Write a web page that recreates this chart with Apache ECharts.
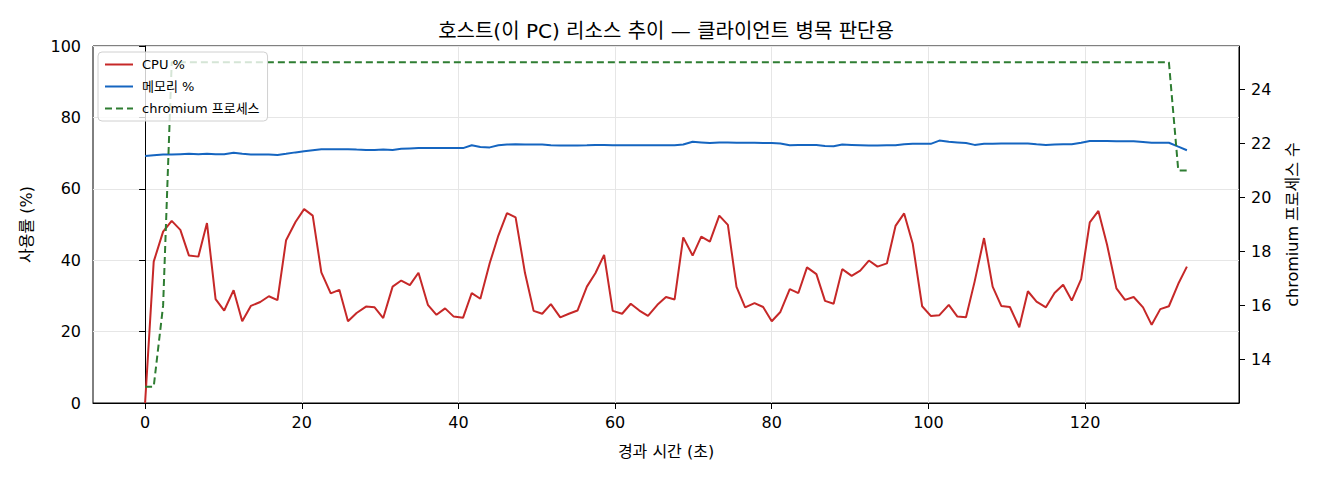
<!DOCTYPE html>
<html>
<head>
<meta charset="utf-8">
<title>호스트 리소스 추이</title>
<script src="https://cdn.jsdelivr.net/npm/echarts@6/dist/echarts.min.js"></script>
<style>
  html, body { margin: 0; padding: 0; background: #fff; }
  #chart { width: 1320px; height: 480px; }
</style>
</head>
<body>
<div id="chart"></div>
<script>
// elapsed seconds of each sample
var times = [
  0.0, 1.1, 2.3, 3.4, 4.5, 5.6, 6.8, 7.9, 9.0, 10.1,
  11.3, 12.4, 13.5, 14.7, 15.8, 16.9, 18.0, 19.2, 20.3, 21.4,
  22.5, 23.7, 24.8, 25.9, 27.0, 28.2, 29.3, 30.4, 31.6, 32.7,
  33.8, 34.9, 36.1, 37.2, 38.3, 39.4, 40.6, 41.7, 42.8, 44.0,
  45.1, 46.2, 47.3, 48.5, 49.6, 50.7, 51.8, 53.0, 54.1, 55.2,
  56.4, 57.5, 58.6, 59.7, 60.9, 62.0, 63.1, 64.2, 65.4, 66.5,
  67.6, 68.7, 69.9, 71.0, 72.1, 73.3, 74.4, 75.5, 76.6, 77.8,
  78.9, 80.0, 81.1, 82.3, 83.4, 84.5, 85.7, 86.8, 87.9, 89.0,
  90.2, 91.3, 92.4, 93.5, 94.7, 95.8, 96.9, 98.0, 99.2, 100.3,
  101.4, 102.6, 103.7, 104.8, 105.9, 107.1, 108.2, 109.3, 110.4, 111.6,
  112.7, 113.8, 115.0, 116.1, 117.2, 118.3, 119.5, 120.6, 121.7, 122.8,
  124.0, 125.1, 126.2, 127.4, 128.5, 129.6, 130.7, 131.9, 133.0
];

var cpuPct = [
  0, 39.6, 48.0, 51.0, 48.5, 41.3, 41.0, 50.4, 29.1, 25.9,
  31.6, 22.9, 27.2, 28.3, 29.9, 28.8, 45.6, 50.7, 54.3, 52.5,
  36.6, 30.7, 31.7, 22.9, 25.2, 27.0, 26.8, 23.8, 32.6, 34.3,
  33.0, 36.5, 27.5, 24.7, 26.5, 24.2, 23.9, 30.8, 29.2, 39.2,
  46.9, 53.2, 52.0, 36.4, 25.8, 25.0, 27.7, 24.0, 25.0, 25.9,
  32.6, 36.4, 41.5, 25.8, 25.0, 27.8, 25.9, 24.4, 27.5, 29.7,
  29.0, 46.4, 41.3, 46.6, 45.2, 52.5, 49.9, 32.5, 26.8, 28.0,
  26.9, 22.9, 25.5, 31.9, 30.8, 38.0, 36.1, 28.6, 27.8, 37.5,
  35.6, 37.1, 39.9, 38.2, 39.1, 49.6, 53.1, 44.6, 27.1, 24.4,
  24.6, 27.5, 24.2, 24.0, 34.0, 46.2, 32.6, 27.2, 26.9, 21.2,
  31.3, 28.4, 26.8, 30.8, 33.1, 28.7, 34.7, 50.6, 53.8, 44.4,
  32.1, 28.9, 29.7, 26.8, 21.9, 26.3, 27.1, 33.4, 38.2
];

var memPct = [
  69.2, 69.4, 69.6, 69.6, 69.7, 69.8, 69.7, 69.8, 69.7, 69.7,
  70.1, 69.8, 69.6, 69.6, 69.6, 69.5, 69.8, 70.2, 70.5, 70.8,
  71.1, 71.1, 71.1, 71.1, 71.0, 70.9, 70.9, 71.0, 70.9, 71.2,
  71.3, 71.4, 71.4, 71.4, 71.4, 71.4, 71.4, 72.2, 71.7, 71.6,
  72.2, 72.4, 72.5, 72.4, 72.4, 72.4, 72.2, 72.1, 72.1, 72.1,
  72.2, 72.3, 72.3, 72.2, 72.2, 72.2, 72.2, 72.2, 72.2, 72.2,
  72.2, 72.4, 73.2, 73.0, 72.8, 73.0, 73.0, 72.9, 72.9, 72.9,
  72.8, 72.8, 72.7, 72.2, 72.3, 72.3, 72.3, 72.0, 71.9, 72.4,
  72.3, 72.2, 72.1, 72.1, 72.2, 72.2, 72.5, 72.6, 72.6, 72.6,
  73.5, 73.2, 73.0, 72.8, 72.3, 72.6, 72.6, 72.7, 72.7, 72.7,
  72.7, 72.5, 72.3, 72.4, 72.5, 72.5, 72.9, 73.4, 73.4, 73.4,
  73.3, 73.3, 73.3, 73.1, 72.9, 72.9, 72.9, 71.8, 70.8
];

var chromiumProcs = [
  13, 13, 16, 25, 25, 25, 25, 25, 25, 25,
  25, 25, 25, 25, 25, 25, 25, 25, 25, 25,
  25, 25, 25, 25, 25, 25, 25, 25, 25, 25,
  25, 25, 25, 25, 25, 25, 25, 25, 25, 25,
  25, 25, 25, 25, 25, 25, 25, 25, 25, 25,
  25, 25, 25, 25, 25, 25, 25, 25, 25, 25,
  25, 25, 25, 25, 25, 25, 25, 25, 25, 25,
  25, 25, 25, 25, 25, 25, 25, 25, 25, 25,
  25, 25, 25, 25, 25, 25, 25, 25, 25, 25,
  25, 25, 25, 25, 25, 25, 25, 25, 25, 25,
  25, 25, 25, 25, 25, 25, 25, 25, 25, 25,
  25, 25, 25, 25, 25, 25, 25, 21, 21
];

var xTicks = [0, 20, 40, 60, 80, 100, 120];
var procTicks = [14, 16, 18, 20, 22, 24];

(function() {
  var font = "'DejaVu Sans', 'Noto Sans CJK KR', sans-serif";
  var gridColor = '#e6e6e6';

  function pairs(ys) {
    return times.map(function(t, i) { return [t, ys[i]]; });
  }

  var chart = echarts.init(document.getElementById('chart'), null, { renderer: 'svg' });
  chart.setOption({
    animation: false,
    textStyle: { fontFamily: font, color: '#000' },
    title: {
      text: '호스트(이 PC) 리소스 추이 — 클라이언트 병목 판단용',
      left: 661,
      textAlign: 'center',
      top: 16,
      textStyle: { fontSize: 20, fontWeight: 'normal', color: '#000', fontFamily: font }
    },
    legend: {
      left: 98,
      top: 52,
      orient: 'vertical',
      itemWidth: 28,
      itemHeight: 14,
      itemGap: 9,
      padding: [6, 8, 6, 6],
      backgroundColor: 'rgba(255,255,255,0.8)',
      borderColor: '#d0d0d0',
      borderWidth: 1,
      borderRadius: 4,
      // hide the marker dot, keep only the line sample
      itemStyle: { opacity: 0, color: 'transparent', borderColor: 'transparent' },
      textStyle: { fontSize: 13, color: '#000', padding: [0, 0, 0, 4] },
      data: ['CPU %', '메모리 %', 'chromium 프로세스']
    },
    grid: {
      left: 93, right: 81, top: 46, bottom: 77,
      show: true, borderColor: '#000', borderWidth: 1, backgroundColor: 'transparent'
    },
    xAxis: {
      type: 'value',
      min: -6.65,
      max: 139.65,
      name: '경과 시간 (초)',
      nameLocation: 'middle',
      nameGap: 40,
      nameTextStyle: { fontSize: 16, color: '#000' },
      axisLine: { show: true, lineStyle: { color: '#000', width: 1 } },
      axisTick: { show: true, length: 6, customValues: xTicks, lineStyle: { color: '#000' } },
      axisLabel: { customValues: xTicks, fontSize: 16, color: '#000', margin: 11 },
      splitLine: { show: true, lineStyle: { color: gridColor } }
    },
    yAxis: [
      {
        type: 'value',
        min: 0,
        max: 100,
        interval: 20,
        name: '사용률 (%)',
        nameLocation: 'middle',
        nameGap: 59,
        nameTextStyle: { fontSize: 16, color: '#000' },
        axisLine: { show: true, lineStyle: { color: '#000', width: 1 } },
        axisTick: { show: true, length: 6, lineStyle: { color: '#000' } },
        axisLabel: { fontSize: 16, color: '#000', margin: 12 },
        splitLine: { show: true, lineStyle: { color: gridColor } }
      },
      {
        type: 'value',
        position: 'right',
        min: 12.4,
        max: 25.6,
        name: 'chromium 프로세스 수',
        nameLocation: 'middle',
        nameRotate: 90,
        nameGap: 45,
        nameTextStyle: { fontSize: 16, color: '#000' },
        axisLine: { show: true, lineStyle: { color: '#000', width: 1 } },
        axisTick: { show: true, length: 6, customValues: procTicks, lineStyle: { color: '#000' } },
        axisLabel: { customValues: procTicks, fontSize: 16, color: '#000', margin: 12 },
        splitLine: { show: false }
      }
    ],
    series: [
      {
        name: 'CPU %',
        type: 'line',
        yAxisIndex: 0,
        symbol: 'none',
        data: pairs(cpuPct),
        lineStyle: { color: '#c62828', width: 2 },
        itemStyle: { color: '#c62828' }
      },
      {
        name: '메모리 %',
        type: 'line',
        yAxisIndex: 0,
        symbol: 'none',
        data: pairs(memPct),
        lineStyle: { color: '#1565c0', width: 2 },
        itemStyle: { color: '#1565c0' }
      },
      {
        name: 'chromium 프로세스',
        type: 'line',
        yAxisIndex: 1,
        symbol: 'none',
        data: pairs(chromiumProcs),
        lineStyle: { color: '#2e7d32', width: 2, type: [7, 4] },
        itemStyle: { color: '#2e7d32' }
      }
    ]
  });
  window.addEventListener('resize', function() { chart.resize(); });
})();
</script>
</body>
</html>
